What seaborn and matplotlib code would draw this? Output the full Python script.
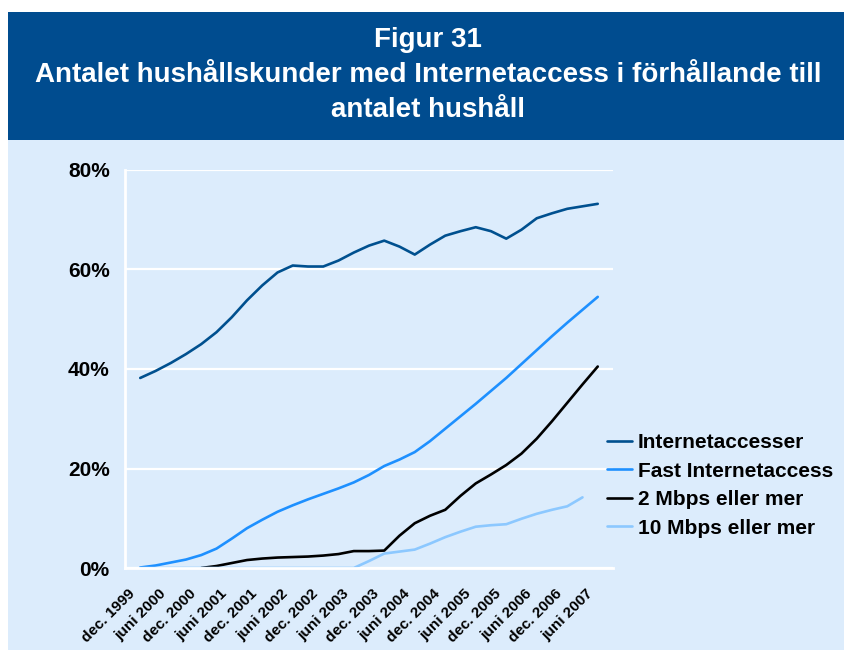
import numpy as np
import pandas as pd
import matplotlib
matplotlib.use('Agg')
import matplotlib.pyplot as plt
import seaborn as sns
from matplotlib.patches import Rectangle
from matplotlib.transforms import ScaledTranslation

# months after dec. 1999, one value per quarter, in percent of households
months = list(range(0, 91, 3))
internet = [38.2, 39.6, 41.2, 43.0, 45.0, 47.4, 50.4, 53.8, 56.8, 59.4, 60.8,
            60.6, 60.6, 61.8, 63.4, 64.8, 65.8, 64.6, 63.0, 65.0, 66.8, 67.7,
            68.5, 67.7, 66.2, 68.0, 70.3, 71.3, 72.2, 72.7, 73.2]
fast = [0.1, 0.5, 1.1, 1.7, 2.6, 3.9, 5.9, 8.0, 9.7, 11.3, 12.6, 13.8, 14.9,
        16.0, 17.2, 18.7, 20.5, 21.8, 23.3, 25.5, 28.0, 30.5, 33.0, 35.6, 38.2,
        41.0, 43.8, 46.6, 49.3, 51.9, 54.5]
mbps2 = [np.nan, np.nan, np.nan, np.nan, 0.0, 0.4, 1.0, 1.6, 1.9, 2.1, 2.2,
         2.3, 2.5, 2.8, 3.4, 3.4, 3.5, 6.5, 9.0, 10.5, 11.7, 14.5, 17.0, 18.8,
         20.7, 23.0, 26.0, 29.5, 33.2, 36.9, 40.5]
mbps10 = [0, 0, 0, 0, 0, 0, 0, 0, 0, 0, 0, 0, 0, 0, 0, 1.4, 2.9, 3.3, 3.7,
          4.9, 6.2, 7.3, 8.3, 8.6, 8.8, 9.9, 10.9, 11.7, 12.4, 14.2, np.nan]

series = ['Internetaccesser', 'Fast Internetaccess', '2 Mbps eller mer', '10 Mbps eller mer']
colors = ['#00508F', '#1E90FF', '#000000', '#8CC8FF']
tick_labels = ['dec. 1999', 'juni 2000', 'dec. 2000', 'juni 2001', 'dec. 2001',
               'juni 2002', 'dec. 2002', 'juni 2003', 'dec. 2003', 'juni 2004',
               'dec. 2004', 'juni 2005', 'dec. 2005', 'juni 2006', 'dec. 2006',
               'juni 2007']

df = pd.DataFrame({'month': months, series[0]: internet, series[1]: fast,
                   series[2]: mbps2, series[3]: mbps10})
long = df.melt(id_vars='month', var_name='serie', value_name='andel').dropna()

bg = '#DCECFC'
sns.set_style('white', {'axes.facecolor': bg, 'text.color': 'black',
                        'xtick.color': 'black', 'ytick.color': 'black'})
plt.rcParams['font.family'] = ['Liberation Sans', 'DejaVu Sans']

fig = plt.figure(figsize=(8.45, 6.5), dpi=100)
fig.patch.set_facecolor('white')
fig.patches.append(Rectangle((8 / 845, 0), 1, 1 - 12 / 650, transform=fig.transFigure,
                             facecolor=bg, edgecolor='none', zorder=-10))
fig.patches.append(Rectangle((8 / 845, 1 - 140 / 650), 1, 128 / 650, transform=fig.transFigure,
                             facecolor='#004C8F', edgecolor='none', zorder=-10))

title_lines = ['Figur 31',
               'Antalet hushållskunder med Internetaccess i förhållande till',
               'antalet hushåll']
for txt, ypx in zip(title_lines, [40, 75, 110]):
    fig.text(428 / 845, 1 - ypx / 650, txt, ha='center', va='center',
             color='white', fontsize=20, fontweight='bold')

ax = fig.add_axes([125 / 845, 1 - 568 / 650, 488 / 845, 398 / 650])
ax.set_zorder(5)
sns.lineplot(data=long, x='month', y='andel', hue='serie', hue_order=series,
             palette=dict(zip(series, colors)), linewidth=1.9, ax=ax)

ax.set_xlim(-3, 93)
ax.set_ylim(0, 80)
ax.set_yticks([0, 20, 40, 60, 80])
ax.set_yticklabels(['0%', '20%', '40%', '60%', '80%'], fontsize=15, fontweight='bold')
ax.yaxis.grid(True, color='white', linewidth=1.6)
ax.set_axisbelow(True)

ax.set_xticks(range(-3, 90, 6))
ax.set_xticklabels([])
ax.set_xticks(range(0, 91, 6), minor=True)
ax.set_xticklabels(tick_labels, minor=True, rotation=45, ha='right', va='center',
                   rotation_mode='anchor', fontsize=11, fontweight='bold')
ax.tick_params(axis='x', which='major', length=4, width=1.5, color='white', direction='out')
ax.tick_params(axis='x', which='minor', length=0, pad=17)
ax.tick_params(axis='y', length=4, width=1.5, color='white', pad=7)
ax.set_xlabel('')
ax.set_ylabel('')

shift = ScaledTranslation(-7 / 100, 0, fig.dpi_scale_trans)
for lab in ax.xaxis.get_minorticklabels():
    lab.set_transform(lab.get_transform() + shift)

for side in ['top', 'right']:
    ax.spines[side].set_visible(False)
for side in ['left', 'bottom']:
    ax.spines[side].set_color('white')
    ax.spines[side].set_linewidth(2)

handles, labels = ax.get_legend_handles_labels()
ax.legend(handles, labels, loc='upper left', bbox_to_anchor=(597 / 845, 1 - 423 / 650),
          bbox_transform=fig.transFigure, frameon=False, borderpad=0,
          handlelength=1.2, handletextpad=0.25, labelspacing=0.45,
          prop={'size': 15, 'weight': 'bold'})

fig.savefig('out.png', dpi=100)
